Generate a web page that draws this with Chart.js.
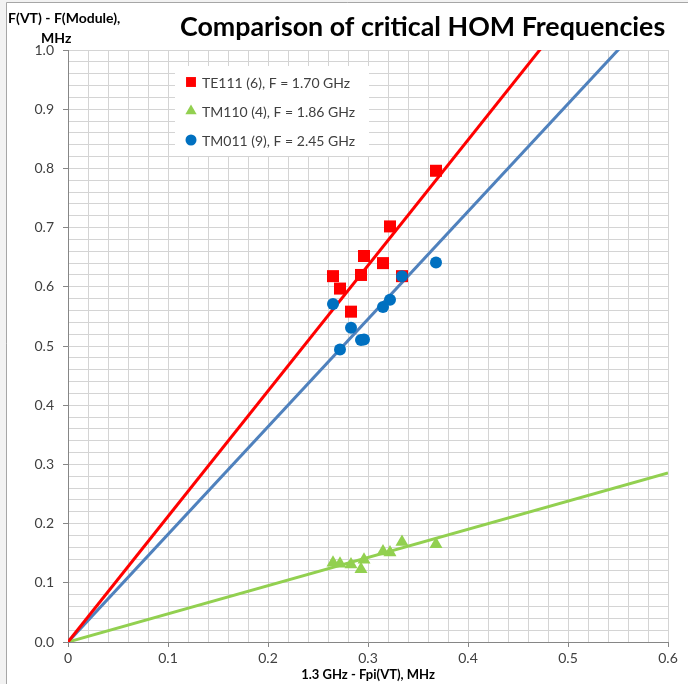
<!DOCTYPE html>
<html>
<head>
<meta charset="utf-8">
<script src="https://cdn.jsdelivr.net/npm/chart.js@4.4.1/dist/chart.umd.min.js"></script>
<style>
  html, body { margin: 0; padding: 0; background: #f2f2f2; }
  #wrap { width: 688px; height: 684px; }
</style>
</head>
<body>
<div id="wrap"><canvas id="homChart" width="688" height="684"></canvas></div>
<script>
// x values shared by all three modes (MHz)
var xShift = [0.265, 0.272, 0.283, 0.293, 0.296, 0.315, 0.322, 0.334, 0.368];
var te111 = [0.618, 0.597, 0.558, 0.620, 0.652, 0.640, 0.702, 0.618, 0.796];
var tm110 = [0.134, 0.132, 0.131, 0.123, 0.139, 0.153, 0.151, 0.169, 0.165];
var tm011 = [0.571, 0.494, 0.531, 0.510, 0.511, 0.566, 0.578, 0.618, 0.641];

var seriesNames = ['TE111 (6), F = 1.70 GHz', 'TM110 (4), F = 1.86 GHz', 'TM011 (9), F = 2.45 GHz'];
// slopes of the straight lines through the origin
var lineSlopes = [2.12, 0.476, 1.818];
var lineEndX = 0.6;

var xTickLabels = ['0', '0.1', '0.2', '0.3', '0.4', '0.5', '0.6'];
var yTickLabels = ['0.0', '0.1', '0.2', '0.3', '0.4', '0.5', '0.6', '0.7', '0.8', '0.9', '1.0'];

var RED = '#ff0000', GREEN = '#92d050', BLUE = '#0070c0', BLUE_LINE = '#4f81bd';

function pts(ys) {
    return xShift.map(function (x, i) { return { x: x, y: ys[i] }; });
}
function lineFor(k) {
    return [{ x: 0, y: 0 }, { x: lineEndX, y: lineEndX * lineSlopes[k] }];
}
function isMajor(v) {
    return Math.abs(v * 10 - Math.round(v * 10)) < 1e-6;
}

var legendMarks = [
    { style: 'rect', color: RED, radius: 7 },
    { style: 'triangle', color: GREEN, radius: 6.5 },
    { style: 'circle', color: BLUE, radius: 5.5 }
];

var framePlugin = {
    id: 'frame',
    beforeDraw: function (chart) {
        var c = chart.ctx;
        c.save();
        c.fillStyle = '#f2f2f2';
        c.fillRect(0, 0, chart.width, chart.height);
        c.fillStyle = '#ffffff';
        c.fillRect(7, 3, chart.width - 7, chart.height - 3);
        c.strokeStyle = '#a6a6a6';
        c.lineWidth = 1;
        c.beginPath();
        c.moveTo(6.5, chart.height);
        c.lineTo(6.5, 2.5);
        c.lineTo(chart.width, 2.5);
        c.stroke();
        c.restore();
    },
    afterDraw: function (chart) {
        var c = chart.ctx;
        c.save();
        // main title
        c.fillStyle = '#000000';
        c.textBaseline = 'middle';
        c.textAlign = 'left';
        var t = 'Comparison of critical HOM Frequencies';
        c.font = 'bold 24px Lato';
        var w = c.measureText(t).width;
        var size = 24 * 485 / w;
        c.font = 'bold ' + size.toFixed(1) + 'px Lato';
        c.fillText(t, 180, 27);

        // y axis title (horizontal, top-left)
        c.font = 'bold 14px Lato';
        c.fillText('F(VT) - F(Module),', 8, 18);
        c.fillText('MHz', 41, 38);

        // legend
        var bx = 175, by = 66;
        c.fillStyle = '#ffffff';
        c.fillRect(bx, by, 194, 90);
        c.font = '14px Lato';
        c.textBaseline = 'middle';
        for (var i = 0; i < seriesNames.length; i++) {
            var y = 82 + i * 29;
            var m = legendMarks[i];
            c.fillStyle = m.color;
            Chart.helpers.drawPoint(c, { pointStyle: m.style, radius: m.radius, rotation: 0, borderWidth: 0 }, 191, y);
            c.fillStyle = '#404040';
            c.fillText(seriesNames[i], 202, y + 1);
        }
        c.restore();
    }
};

var ctx = document.getElementById('homChart').getContext('2d');

var homChart = new Chart(ctx, {
    type: 'scatter',
    data: {
        datasets: [
            {
                label: seriesNames[2],
                data: pts(tm011),
                backgroundColor: BLUE,
                borderColor: BLUE,
                pointStyle: 'circle',
                pointRadius: 6,
                pointBorderWidth: 0
            },
            {
                label: seriesNames[0],
                data: pts(te111),
                backgroundColor: RED,
                borderColor: RED,
                pointStyle: 'rect',
                pointRadius: 8.5,
                pointBorderWidth: 0
            },
            {
                label: seriesNames[1],
                data: pts(tm110),
                backgroundColor: GREEN,
                borderColor: GREEN,
                pointStyle: 'triangle',
                pointRadius: 7.5,
                pointBorderWidth: 0
            },
            {
                label: 'TE111 line',
                data: lineFor(0),
                showLine: true,
                borderColor: RED,
                borderWidth: 3,
                pointRadius: 0
            },
            {
                label: 'TM110 line',
                data: lineFor(1),
                showLine: true,
                borderColor: GREEN,
                borderWidth: 3,
                pointRadius: 0
            },
            {
                label: 'TM011 line',
                data: lineFor(2),
                showLine: true,
                borderColor: BLUE_LINE,
                borderWidth: 3,
                pointRadius: 0
            }
        ]
    },
    options: {
        responsive: false,
        animation: false,
        events: [],
        layout: {
            padding: { left: 0, right: 20, top: 50, bottom: 0 }
        },
        plugins: {
            legend: { display: false },
            tooltip: { enabled: false }
        },
        scales: {
            x: {
                type: 'linear',
                min: 0,
                max: 0.6,
                afterFit: function (scale) { scale.height = 42; },
                border: { color: '#868686', width: 1 },
                grid: {
                    color: '#d4d4d4',
                    tickLength: 5,
                    tickColor: function (c) { return isMajor(c.tick.value) ? '#868686' : 'rgba(0,0,0,0)'; }
                },
                ticks: {
                    stepSize: 0.02,
                    autoSkip: false,
                    maxRotation: 0,
                    padding: 3,
                    color: '#404040',
                    font: { family: 'Lato', size: 14 },
                    callback: function (v) {
                        return isMajor(v) ? xTickLabels[Math.round(v * 10)] : '';
                    }
                },
                title: {
                    display: true,
                    text: '1.3 GHz - Fpi(VT), MHz',
                    color: '#000000',
                    font: { family: 'Lato', size: 13, weight: 'bold' },
                    padding: { top: 0, bottom: 1 }
                }
            },
            y: {
                type: 'linear',
                min: 0,
                max: 1.0,
                afterFit: function (scale) { scale.width = 68; },
                border: { color: '#868686', width: 1 },
                grid: {
                    color: '#d4d4d4',
                    tickLength: 5,
                    tickColor: function (c) { return isMajor(c.tick.value) ? '#868686' : 'rgba(0,0,0,0)'; }
                },
                ticks: {
                    stepSize: 0.02,
                    autoSkip: false,
                    padding: 9,
                    color: '#404040',
                    font: { family: 'Lato', size: 14 },
                    callback: function (v) {
                        return isMajor(v) ? yTickLabels[Math.round(v * 10)] : '';
                    }
                }
            }
        }
    },
    plugins: [framePlugin]
});
</script>
</body>
</html>
